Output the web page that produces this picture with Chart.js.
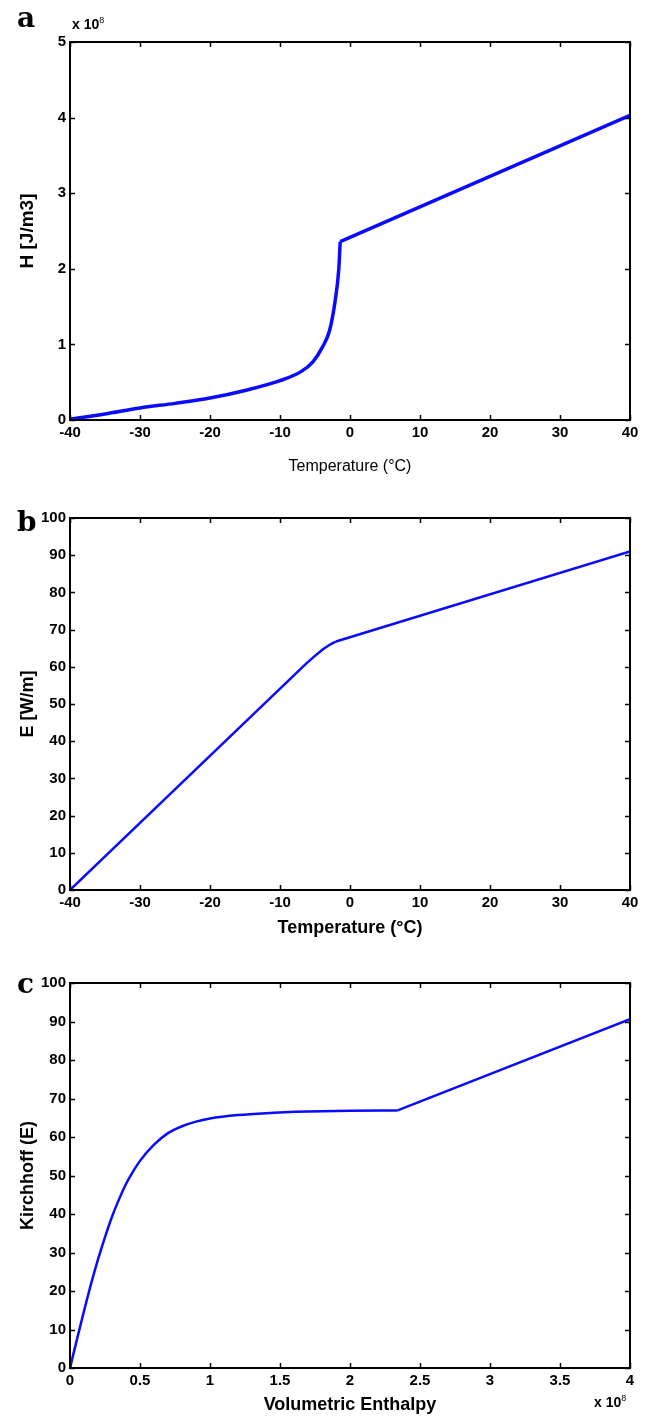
<!DOCTYPE html>
<html>
<head>
<meta charset="utf-8">
<script src="https://cdn.jsdelivr.net/npm/chart.js@4.4.0/dist/chart.umd.min.js"></script>
<style>
  body { margin: 0; background: #fff; }
  #wrap { position: relative; width: 646px; height: 1418px; overflow: hidden; }
  canvas { position: absolute; left: 0; }
  .lbl { position: absolute; font-family: "DejaVu Serif", "Liberation Serif", serif; font-weight: bold; font-size: 28px; line-height: 1; }
  .exp { position: absolute; font-family: "Liberation Sans", sans-serif; font-weight: bold; font-size: 14px; line-height: 1; }
  .exp sup { font-size: 9px; font-weight: normal; }
</style>
</head>
<body>
<div id="wrap">
  <canvas id="ca" width="646" height="480" style="top:0"></canvas>
  <canvas id="cb" width="646" height="460" style="top:480px"></canvas>
  <canvas id="cc" width="646" height="478" style="top:940px"></canvas>
  <div class="lbl" style="left:17px;top:4px">a</div>
  <div class="lbl" style="left:17px;top:508px">b</div>
  <div class="lbl" style="left:17px;top:970px">c</div>
  <div class="exp" style="left:72px;top:16px">x 10<sup>8</sup></div>
  <div class="exp" style="left:594px;top:1394px">x 10<sup>8</sup></div>
</div>
<script>
// (a) enthalpy H vs temperature: curved freezing range, then straight liquid branch
const tempA = [-40, -35, -30, -25, -20, -15, -10, -7, -5.3, -3.9, -2.9, -2.1, -1.6, -1.4];
const enthA = [0.01e8, 0.08e8, 0.16e8, 0.22e8, 0.29e8, 0.39e8, 0.52e8, 0.64e8, 0.77e8, 0.97e8, 1.19e8, 1.59e8, 2.0e8, 2.36e8];
const tempA2 = [-1.4, 40];
const enthA2 = [2.36e8, 4.03e8];

// (b) Kirchhoff function E vs temperature: straight, short bend, straight
const tempB0 = [-40, -6];
const kirchB0 = [0, 61.3];
const tempB = [-6, -4, -3, -2];
const kirchB = [61.3, 64.5, 65.8, 66.8];
const tempB2 = [-2, 40];
const kirchB2 = [66.8, 91];

// (c) Kirchhoff function vs volumetric enthalpy
const enthC = [0, 0.05e8, 0.1e8, 0.15e8, 0.2e8, 0.25e8, 0.3e8, 0.35e8, 0.4e8, 0.45e8, 0.5e8, 0.6e8, 0.7e8, 0.8e8, 0.9e8, 1.0e8, 1.2e8, 1.4e8, 1.7e8, 2.0e8, 2.34e8];
const kirchC = [0, 7.5, 14.8, 21.8, 28.2, 34, 39.3, 43.8, 47.8, 51, 53.8, 58, 61, 62.8, 64, 64.8, 65.7, 66.2, 66.6, 66.8, 66.9];
const enthC2 = [2.34e8, 4.0e8];
const kirchC2 = [66.9, 90.6];

const BLUE = '#0a0aff';
const SANS = '"Liberation Sans", Arial, sans-serif';

// box round the plot, ticks pointing inwards on all four sides
const frame = {
  id: 'frame',
  afterDraw(chart) {
    const { ctx, chartArea: a, scales: { x, y } } = chart;
    ctx.save();
    ctx.strokeStyle = '#000';
    ctx.lineWidth = 1.5;
    ctx.beginPath();
    x.ticks.forEach(t => {
      const px = Math.round(x.getPixelForValue(t.value)) + 0.5;
      ctx.moveTo(px, a.bottom); ctx.lineTo(px, a.bottom - 5);
      ctx.moveTo(px, a.top); ctx.lineTo(px, a.top + 5);
    });
    y.ticks.forEach(t => {
      const py = Math.round(y.getPixelForValue(t.value)) + 0.5;
      ctx.moveTo(a.left, py); ctx.lineTo(a.left + 5, py);
      ctx.moveTo(a.right, py); ctx.lineTo(a.right - 5, py);
    });
    ctx.stroke();
    ctx.lineWidth = 2;
    ctx.strokeRect(a.left, a.top, a.width, a.height);
    ctx.restore();
  }
};

const toPts = (xs, ys) => xs.map((v, i) => ({ x: v, y: ys[i] }));

// parts: [[points, 'monotone' | 'default'], ...]
function makeChart(id, parts, o) {
  const datasets = parts.map(([pts, mode]) => ({ data: pts, borderColor: BLUE, borderWidth: o.lw, pointRadius: 0, cubicInterpolationMode: mode, fill: false }));
  return new Chart(document.getElementById(id), {
    type: 'line',
    data: { datasets },
    options: {
      responsive: false,
      animation: false,
      layout: { padding: { top: o.top, right: 16, left: 0, bottom: 0 } },
      plugins: { legend: { display: false }, tooltip: { enabled: false } },
      scales: {
        x: {
          type: 'linear', min: o.xmin, max: o.xmax,
          grid: { display: false, drawTicks: false }, border: { display: false },
          ticks: { stepSize: o.xstep, padding: 4, maxRotation: 0, autoSkip: false, color: '#000', font: { family: SANS, size: 15, weight: 'bold' }, callback: o.xfmt },
          title: { display: true, text: o.xtitle, color: '#000', font: { family: SANS, size: o.xtitleSize, weight: o.xtitleWeight }, padding: { top: 0, bottom: o.xtitlePad } },
          afterFit: s => { s.height = o.xh; }
        },
        y: {
          min: 0, max: o.ymax,
          grid: { display: false, drawTicks: false }, border: { display: false },
          ticks: { stepSize: o.ystep, padding: 4, autoSkip: false, color: '#000', font: { family: SANS, size: 15, weight: 'bold' }, callback: o.yfmt },
          title: { display: true, text: o.ytitle, color: '#000', font: { family: SANS, size: o.ytitleSize, weight: 'bold' }, padding: { top: o.ytitlePad, bottom: 0 } },
          afterFit: s => { s.width = 70; }
        }
      }
    },
    plugins: [frame]
  });
}

makeChart('ca', [[toPts(tempA, enthA), 'monotone'], [toPts(tempA2, enthA2), 'default']], {
  lw: 3.5, top: 42, xh: 60, xmin: -40, xmax: 40, xstep: 10, ymax: 5e8, ystep: 1e8,
  xtitleSize: 16, xtitleWeight: 'normal', xtitlePad: 4, ytitleSize: 19, ytitlePad: 16,
  xtitle: 'Temperature (\u00B0C)', ytitle: 'H [J/m3]',
  xfmt: v => String(v), yfmt: v => String(Math.round(v / 1e8))
});

makeChart('cb', [[toPts(tempB0, kirchB0), 'default'], [toPts(tempB, kirchB), 'monotone'], [toPts(tempB2, kirchB2), 'default']], {
  lw: 2.5, top: 38, xh: 50, xmin: -40, xmax: 40, xstep: 10, ymax: 100, ystep: 10,
  xtitleSize: 18, xtitleWeight: 'bold', xtitlePad: 1, ytitleSize: 18, ytitlePad: 17,
  xtitle: 'Temperature (\u00B0C)', ytitle: 'E [W/m]',
  xfmt: v => String(v), yfmt: v => String(v)
});

makeChart('cc', [[toPts(enthC, kirchC), 'monotone'], [toPts(enthC2, kirchC2), 'default']], {
  lw: 2.5, top: 43, xh: 50, xmin: 0, xmax: 4e8, xstep: 0.5e8, ymax: 100, ystep: 10,
  xtitleSize: 18, xtitleWeight: 'bold', xtitlePad: 2, ytitleSize: 18, ytitlePad: 17,
  xtitle: 'Volumetric Enthalpy', ytitle: 'Kirchhoff (E)',
  xfmt: v => String(Math.round(v / 1e7) / 10), yfmt: v => String(v)
});
</script>
</body>
</html>
